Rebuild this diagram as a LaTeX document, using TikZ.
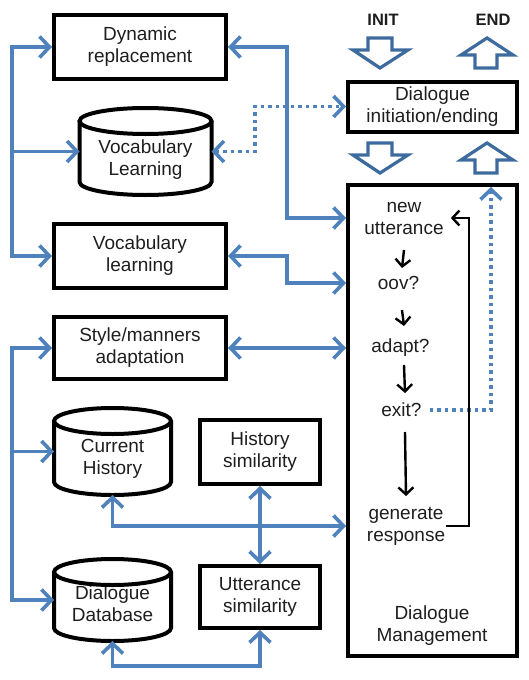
\documentclass[tikz,border=0pt]{standalone}
\usepackage{xcolor}
\usepackage{fontspec}
\setmainfont{Liberation Sans}
\usepackage{tikz}
\usetikzlibrary{positioning}
\usetikzlibrary{calc}
\usetikzlibrary{arrows.meta}

\definecolor{linkblue}{HTML}{4F81BD}
\definecolor{hollowblue}{HTML}{3E6B9E}
\definecolor{txt}{HTML}{1E1E1E}

\newcommand{\drawdb}[2]{
  \draw [dbline] ($ (#1.north west) + (0,13) $) -- ($ (#1.south west) + (0,-13) $) arc [start angle=180, end angle=360, x radius=#2pt, y radius=13pt] -- ($ (#1.north east) + (0,13) $);
  \draw [dbline] ($ (#1.north) + (0,13) $) ellipse [x radius=#2pt, y radius=13pt];
}

\begin{document}
\begin{tikzpicture}[x=1pt, y=-1pt,
  >={Straight Barb[length=10pt,width=21pt]},
  box/.style={draw=black, line width=4pt, align=center, text=txt, font=\fontsize{19}{22}\selectfont},
  dbnode/.style={inner sep=0pt, outer sep=0pt},
  dbline/.style={draw=black, line width=4pt},
  label/.style={align=center, text=txt, inner sep=1pt, font=\fontsize{19}{22}\selectfont},
  link/.style={draw=linkblue, line width=3.6pt},
  dotlink/.style={draw=linkblue, line width=3.6pt, dash pattern=on 3.5pt off 4pt},
  flow/.style={draw=black, line width=2.4pt, >={Straight Barb[length=7pt,width=15pt]}},
  hollow/.style={draw=hollowblue, line width=3.2pt, line join=miter},
  tag/.style={text=txt, font=\fontsize{16.5}{18}\selectfont\bfseries}]

 \useasboundingbox (0,0) rectangle (528,680);

 \node (dyn) [box, minimum width=172pt, minimum height=64pt] at (140,47) { Dynamic\\replacement };
 \node (vocab) [box, minimum width=172pt, minimum height=64pt] at (140,256) { Vocabulary\\learning };
 \node (style) [box, minimum width=172pt, minimum height=62pt] at (140,348) { Style/manners\\adaptation };
 \node (histsim) [box, minimum width=120pt, minimum height=64pt] at (260,452) { History\\similarity };
 \node (uttsim) [box, minimum width=120pt, minimum height=62pt] at (260,597) { Utterance\\similarity };

 \node (die) [box, minimum width=169pt, minimum height=50pt] at (432.5,106.5) { Dialogue\\initiation/ending };
 \node (dm) [box, minimum width=169pt, minimum height=471pt] at (432.5,420.5) {};
 \node (dmlabel) [label] at (432,626) { Dialogue\\Management };

 \node (vocdb) [dbnode, minimum width=132pt, minimum height=87pt] at (145.5,151.5) {};
 \node (vocdbtext) [label] at (145.5,160) { Vocabulary\\Learning };
 \node (curhist) [dbnode, minimum width=117pt, minimum height=87pt] at (112.5,451.5) {};
 \node (curhisttext) [label] at (112.5,459) { Current\\History };
 \node (dialdb) [dbnode, minimum width=117pt, minimum height=82pt] at (112.5,600) {};
 \node (dialdbtext) [label] at (112.5,604) { Dialogue\\Database };
 \drawdb{vocdb}{66}
 \drawdb{curhist}{58.5}
 \drawdb{dialdb}{58.5}

 \node (newutt) [label] at (404,218) { new\\utterance };
 \node (oov) [label] at (402,283) { oov? };
 \node (adapt) [label] at (404,348) { adapt? };
 \node (exit) [label] at (405,410) { exit? };
 \node (gen) [label] at (406,526) { generate\\response };

 \node (init) [tag] at (383,20) { INIT };
 \node (end) [tag] at (493,20) { END };

 \foreach \y in {38,143} {
   \draw [hollow] (368,\y) -- (392,\y) -- (392,\y+12) -- (408,\y+12) -- (380,\y+30) -- (353,\y+12) -- (368,\y+12) -- cycle;
   \draw [hollow] (487,\y) -- (513,\y+17) -- (497,\y+17) -- (497,\y+30) -- (475,\y+30) -- (475,\y+17) -- (461,\y+17) -- cycle;
 }

 \coordinate (bus) at (12,0);
 \coordinate (riser) at (287,0);
 \coordinate (dotriser) at (255,0);
 \coordinate (loop) at (469,0);
 \coordinate (dmtop) at (491,187);

 \draw [link,<->] (dyn.west) -- (dyn.west -| bus) |- (vocab.west);
 \draw [link,->] (vocdb.west -| bus) -- (vocdb.west);
 \draw [link,<->] (style.west) -- (style.west -| bus) |- (dialdb.west);
 \draw [link,->] (curhist.west -| bus) -- (curhist.west);

 \draw [link,<->] (dyn.east) -- (dyn.east -| riser) |- (dm.west |- newutt);
 \draw [link,<->] (vocab.east) -- (vocab.east -| riser) |- (dm.west |- oov);
 \draw [link,<->] (style.east) -- (dm.west |- style.east);
 \draw [dotlink,<->] (vocdb.east) -- (vocdb.east -| dotriser) |- (die.west);
 \draw [dotlink,->] (exit.east) -| (dmtop);

 \draw [link,<->] (curhist.south) |- (dm.west |- gen);
 \draw [link,<->] (histsim.south) -- (uttsim.north);
 \draw [link,<->] (dialdb.south) -- ++(0,25) -| (uttsim.south);

 \draw [flow,->] ($ (newutt) + (0,32) $) -- ($ (oov) + (0,-15) $);
 \draw [flow,->] ($ (oov) + (0,27) $) -- ($ (adapt) + (0,-22) $);
 \draw [flow,->] ($ (adapt) + (0,17) $) -- ($ (exit) + (0,-17) $);
 \draw [flow,->] ($ (exit) + (0,22) $) -- ($ (gen) + (0,-30) $);
 \draw [flow,->] (gen.east) -- (gen.east -| loop) |- ($ (newutt.east) + (6,0) $);
\end{tikzpicture}
\end{document}
